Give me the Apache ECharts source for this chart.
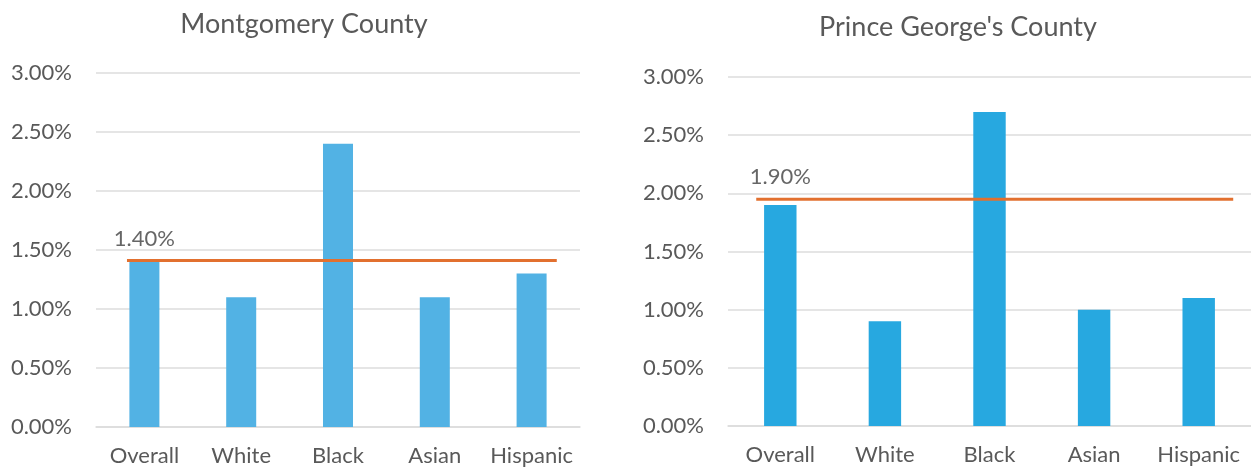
<!DOCTYPE html>
<html>
<head>
<meta charset="utf-8">
<script src="https://cdn.jsdelivr.net/npm/echarts@6/dist/echarts.min.js"></script>
<style>
html,body{margin:0;padding:0;background:#fff;}
#c{width:1251px;height:476px;}
</style>
</head>
<body>
<div id="c"></div>
<script>
// ---- data ----
const categories = ['Overall', 'White', 'Black', 'Asian', 'Hispanic'];
const chartTitles = ['Montgomery County', "Prince George's County"];
const montgomeryRates = [1.4, 1.1, 2.4, 1.1, 1.3];
const princeGeorgesRates = [1.9, 0.9, 2.7, 1.0, 1.1];
const overallLineValues = [1.41, 1.95];
const overallLineLabels = ['1.40%', '1.90%'];
const overallLineExtents = [[-0.18, 4.26], [-0.23, 4.33]];
const yTicks = [0, 0.5, 1, 1.5, 2, 2.5, 3];

const FONT = 'Lato';
const TEXT = '#595959';
const GRID_LINE = '#dcdcdc';
const barColors = ['#52b2e4', '#27a8e0'];
const lineColor = '#e2702f';

const grids = [
  {left: 96, right: 671, top: 73, bottom: 49},
  {left: 728, right: 0, top: 77, bottom: 50}
];
const titlePos = [{left: 299, top: 6}, {left: 953, top: 9}];
const seriesData = [montgomeryRates, princeGeorgesRates];

const option = {
  animation: false,
  backgroundColor: '#fff',
  title: chartTitles.map((t, i) => ({
    text: t, left: titlePos[i].left, top: titlePos[i].top, textAlign: 'center',
    textStyle: {fontFamily: FONT, fontSize: 27, fontWeight: 'normal', color: TEXT}
  })),
  grid: grids,
  xAxis: [],
  yAxis: [],
  series: []
};

grids.forEach((g, i) => {
  option.xAxis.push({
    type: 'category', gridIndex: i, data: categories,
    axisLine: {show: true, lineStyle: {color: GRID_LINE, width: 1.5}},
    axisTick: {show: false},
    axisLabel: {fontFamily: FONT, fontSize: 22, color: TEXT, margin: 18, interval: 0}
  });
  option.xAxis.push({
    type: 'value', gridIndex: i, min: -0.5, max: categories.length - 0.5, show: false
  });
  option.yAxis.push({
    type: 'value', gridIndex: i, min: yTicks[0], max: yTicks[yTicks.length - 1], interval: 0.5,
    axisLine: {show: false}, axisTick: {show: false},
    splitLine: {lineStyle: {color: GRID_LINE, width: 1.5}},
    axisLabel: {fontFamily: FONT, fontSize: 22, color: TEXT, margin: 24,
      formatter: v => v.toFixed(2) + '%'}
  });
  option.series.push({
    type: 'bar', xAxisIndex: i * 2, yAxisIndex: i,
    data: seriesData[i], barWidth: '31%',
    itemStyle: {color: barColors[i]}
  });
  option.series.push({
    type: 'line', xAxisIndex: i * 2 + 1, yAxisIndex: i,
    data: overallLineExtents[i].map(x => [x, overallLineValues[i]]),
    symbol: 'none', z: 3,
    lineStyle: {color: lineColor, width: 3}
  });
  option.series.push({
    type: 'scatter', xAxisIndex: i * 2, yAxisIndex: i,
    data: [[categories[0], overallLineValues[i]]],
    symbolSize: 0,
    label: {show: true, position: 'top', distance: 11, formatter: overallLineLabels[i],
      fontFamily: FONT, fontSize: 22, color: '#404040'}
  });
});

const chart = echarts.init(document.getElementById('c'), null, {renderer: 'canvas'});
chart.setOption(option);
</script>
</body>
</html>
